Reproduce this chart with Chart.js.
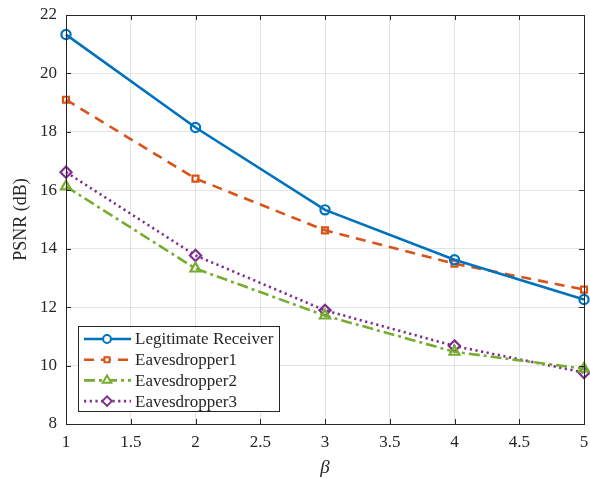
<!DOCTYPE html>
<html>
<head>
<meta charset="utf-8">
<script src="https://cdn.jsdelivr.net/npm/chart.js@4.4.0/dist/chart.umd.min.js"></script>
<style>
  html, body { margin: 0; padding: 0; background: #fff; }
  #wrap { width: 590px; height: 479px; }
</style>
</head>
<body>
<div id="wrap"><canvas id="c" width="590" height="479"></canvas></div>
<script>
// beta values on x axis
var betas = [1, 2, 3, 4, 5];
var legit = [21.33, 18.15, 15.33, 13.62, 12.26];
var eve1 = [19.1, 16.4, 14.63, 13.49, 12.6];
var eve2 = [16.13, 13.32, 11.71, 10.47, 9.89];
var eve3 = [16.62, 13.77, 11.89, 10.67, 9.76];
var xTicks = [1, 1.5, 2, 2.5, 3, 3.5, 4, 4.5, 5];
var yTicks = [8, 10, 12, 14, 16, 18, 20, 22];

var serif = "'Liberation Serif', 'Times New Roman', serif";

function pts(vals){
  return betas.map(function(b, i){ return {x: b, y: vals[i]}; });
}

function series(label, vals, color, dash, style, radius){
  return {
    label: label,
    data: pts(vals),
    borderColor: color,
    backgroundColor: color,
    borderWidth: 2.6,
    borderDash: dash,
    pointStyle: style,
    pointRadius: radius,
    pointBorderWidth: 2.2,
    pointBorderColor: color,
    pointBackgroundColor: 'rgba(255,255,255,0)',
    clip: 10,
    tension: 0
  };
}

// axes box + inward ticks like matlab
var framePlugin = {
  id: 'frame',
  afterDraw: function(chart){
    var ctx = chart.ctx, a = chart.chartArea;
    var xs = chart.scales.x, ys = chart.scales.y;
    ctx.save();
    ctx.strokeStyle = '#262626';
    ctx.lineWidth = 1;
    ctx.strokeRect(Math.round(a.left) + 0.5, Math.round(a.top) + 0.5, Math.round(a.right - a.left), Math.round(a.bottom - a.top));
    ctx.beginPath();
    xTicks.forEach(function(t){
      var px = Math.round(xs.getPixelForValue(t)) + 0.5;
      ctx.moveTo(px, a.bottom); ctx.lineTo(px, a.bottom - 5);
      ctx.moveTo(px, a.top); ctx.lineTo(px, a.top + 5);
    });
    yTicks.forEach(function(t){
      var py = Math.round(ys.getPixelForValue(t)) + 0.5;
      ctx.moveTo(a.left, py); ctx.lineTo(a.left + 5, py);
      ctx.moveTo(a.right, py); ctx.lineTo(a.right - 5, py);
    });
    ctx.stroke();
    ctx.restore();
  }
};

// legend box inside the plot, bottom left
var legendPlugin = {
  id: 'boxLegend',
  afterDraw: function(chart){
    var ctx = chart.ctx;
    var x0 = 78, y0 = 326, w = 201, h = 85;
    ctx.save();
    ctx.fillStyle = '#fff';
    ctx.fillRect(x0, y0, w, h);
    ctx.strokeStyle = '#262626';
    ctx.lineWidth = 1;
    ctx.strokeRect(x0 + 0.5, y0 + 0.5, w, h);
    chart.data.datasets.forEach(function(ds, i){
      var cy = y0 + 13 + i * 20.7;
      ctx.strokeStyle = ds.borderColor;
      ctx.lineWidth = ds.borderWidth;
      ctx.setLineDash(ds.borderDash);
      ctx.beginPath();
      ctx.moveTo(84, cy); ctx.lineTo(131, cy);
      ctx.stroke();
      ctx.setLineDash([]);
      ctx.fillStyle = '#fff';
      ctx.lineWidth = 2;
      Chart.helpers.drawPoint(ctx, { pointStyle: ds.pointStyle, radius: ds.pointRadius * 0.85, borderWidth: 2, rotation: 0 }, 107, cy);
      ctx.fillStyle = '#262626';
      ctx.font = '17px ' + serif;
      ctx.textBaseline = 'middle';
      ctx.textAlign = 'left';
      ctx.fillText(ds.label, 135, cy + 1);
    });
    ctx.restore();
  }
};

new Chart(document.getElementById('c'), {
  type: 'line',
  data: {
    datasets: [
      series('Legitimate Receiver', legit, '#0072BD', [], 'circle', 4.6),
      series('Eavesdropper1', eve1, '#D95319', [10, 7], 'rect', 4.2),
      series('Eavesdropper2', eve2, '#77AC30', [11, 4, 3, 4], 'triangle', 5.8),
      series('Eavesdropper3', eve3, '#7E2F8E', [2.2, 3.5], 'rectRot', 5.6)
    ]
  },
  options: {
    responsive: false,
    animation: false,
    layout: { autoPadding: false, padding: { left: 0, right: 6, top: 15, bottom: 0 } },
    plugins: {
      legend: { display: false },
      tooltip: { enabled: false }
    },
    scales: {
      x: {
        type: 'linear',
        min: 1, max: 5,
        afterBuildTicks: function(s){ s.ticks = xTicks.map(function(v){ return {value: v}; }); },
        afterFit: function(s){ s.height = 55; s.paddingLeft = 0; s.paddingRight = 0; },
        grid: { color: 'rgba(0,0,0,0.1)', drawTicks: false },
        border: { display: false },
        ticks: { color: '#262626', font: { family: serif, size: 17 }, padding: 8, maxRotation: 0,
                 callback: function(v){ return String(v); } },
        title: { display: true, text: 'β', color: '#262626', font: { family: serif, size: 19, style: 'italic' }, padding: { top: 0, bottom: 0 } }
      },
      y: {
        min: 8, max: 22,
        afterBuildTicks: function(s){ s.ticks = yTicks.map(function(v){ return {value: v}; }); },
        afterFit: function(s){ s.width = 66; s.paddingTop = 0; s.paddingBottom = 0; },
        grid: { color: 'rgba(0,0,0,0.1)', drawTicks: false },
        border: { display: false },
        ticks: { color: '#262626', font: { family: serif, size: 17 }, padding: 9,
                 callback: function(v){ return String(v); } },
        title: { display: true, text: 'PSNR (dB)', color: '#262626', font: { family: serif, size: 18 }, padding: { top: 10, bottom: 0 } }
      }
    }
  },
  plugins: [framePlugin, legendPlugin]
});
</script>
</body>
</html>
